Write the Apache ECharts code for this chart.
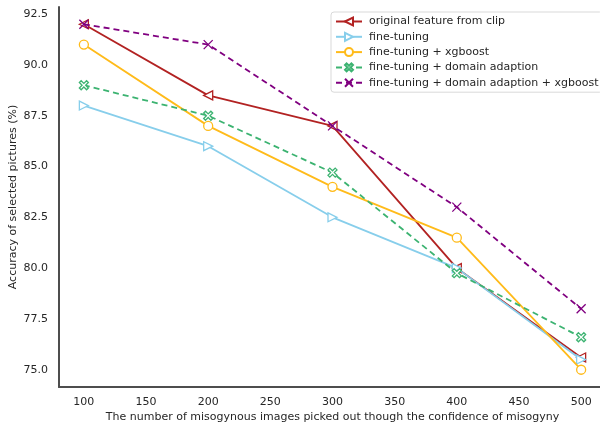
<!DOCTYPE html>
<html>
<head>
<meta charset="utf-8">
<script src="https://cdn.jsdelivr.net/npm/echarts@6/dist/echarts.min.js"></script>
<style>html,body{margin:0;padding:0;background:#fff}#c{width:600px;height:428px}</style>
</head>
<body>
<div id="c"></div>
<script>
var xValues = [100, 200, 300, 400, 500];
var seriesNames = ['original feature from clip', 'fine-tuning', 'fine-tuning + xgboost', 'fine-tuning + domain adaption', 'fine-tuning + domain adaption + xgboost'];
var originalClip = [92.0, 88.5, 87.0, 80.0, 75.6];
var fineTuning = [88.0, 86.0, 82.5, 80.0, 75.5];
var ftXgboost = [91.0, 87.0, 84.0, 81.5, 75.0];
var ftDomain = [89.0, 87.5, 84.7, 79.75, 76.6];
var ftDomainXgboost = [92.0, 91.0, 87.0, 83.0, 78.0];
var yTicks = [75.0, 77.5, 80.0, 82.5, 85.0, 87.5, 90.0, 92.5];
var xTicks = [100, 150, 200, 250, 300, 350, 400, 450, 500];

var colors = ['#b22222', '#87ceeb', '#ffbb1a', '#3cb371', '#800080'];
var allData = [originalClip, fineTuning, ftXgboost, ftDomain, ftDomainXgboost];
var symbols = [
  'path://M0,5 L10,0 L10,10 Z',
  'path://M10,5 L0,0 L0,10 Z',
  'circle',
  'path://M2,0 L5,3 L8,0 L10,2 L7,5 L10,8 L8,10 L5,7 L2,10 L0,8 L3,5 L0,2 Z',
  'path://M0,0 L10,10 M10,0 L0,10'
];
var sizes = [9, 9, 9, 9, 9];
var dashed = [false, false, false, true, true];

var series = allData.map(function (d, i) {
  return {
    name: seriesNames[i],
    type: 'line',
    data: d.map(function (v, j) { return [xValues[j], v]; }),
    symbol: symbols[i],
    symbolSize: sizes[i],
    showSymbol: true,
    lineStyle: { color: colors[i], width: 1.8, type: dashed[i] ? [6, 4] : 'solid' },
    itemStyle: { color: i === 4 ? colors[i] : '#ffffff', borderColor: colors[i], borderWidth: 1.3 },
    emphasis: { disabled: true },
    z: 2 + i
  };
});

var chart = echarts.init(document.getElementById('c'), null, { renderer: 'canvas' });
chart.setOption({
  animation: false,
  backgroundColor: '#ffffff',
  textStyle: { fontFamily: 'DejaVu Sans' },
  grid: { left: 59, top: 7, width: 547, height: 380, containLabel: false, outerBoundsMode: 'none' },
  legend: {
    orient: 'vertical',
    left: 331,
    top: 12,
    itemWidth: 26,
    itemHeight: 10,
    itemGap: 4.3,
    padding: [4, 4, 4, 4],
    backgroundColor: '#ffffff',
    borderColor: '#d9d9d9',
    borderWidth: 1,
    borderRadius: 3,
    textStyle: { fontFamily: 'DejaVu Sans', fontSize: 11, color: '#262626', padding: [0, 0, 0, 2] },
    data: seriesNames
  },
  xAxis: {
    type: 'value',
    min: 80,
    max: 520,
    name: 'The number of misogynous images picked out though the confidence of misogyny',
    nameLocation: 'middle',
    nameGap: 25,
    nameMoveOverlap: false,
    nameTextStyle: { fontFamily: 'DejaVu Sans', fontSize: 11, color: '#262626' },
    axisLine: { show: true, lineStyle: { color: '#4d4d4d', width: 2 } },
    axisTick: { show: false },
    splitLine: { show: false },
    axisLabel: {
      customValues: xTicks,
      fontFamily: 'DejaVu Sans', fontSize: 11, color: '#262626', margin: 10
    }
  },
  yAxis: {
    type: 'value',
    min: 74.15,
    max: 92.85,
    name: 'Accuracy of selected pictures (%)',
    nameLocation: 'middle',
    nameGap: 40,
    nameMoveOverlap: false,
    nameTextStyle: { fontFamily: 'DejaVu Sans', fontSize: 11, color: '#262626' },
    axisLine: { show: true, lineStyle: { color: '#4d4d4d', width: 2 } },
    axisTick: { show: false },
    splitLine: { show: false },
    axisLabel: {
      customValues: yTicks,
      formatter: function (v) { return v.toFixed(1); },
      fontFamily: 'DejaVu Sans', fontSize: 11, color: '#262626', margin: 11
    }
  },
  series: series
});
</script>
</body>
</html>
